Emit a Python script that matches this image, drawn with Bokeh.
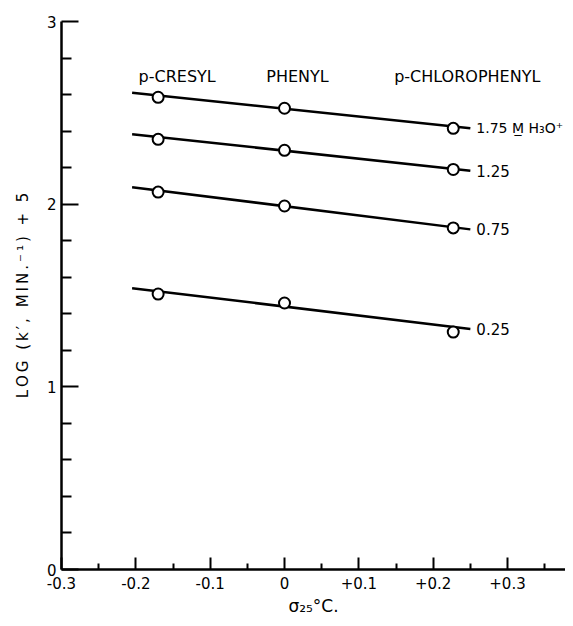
from bokeh.plotting import figure
from bokeh.models import FixedTicker, Range1d, ColumnDataSource
from bokeh.core.properties import value
from bokeh.embed import file_html
from bokeh.resources import INLINE

# ---- data ----
substituents = ["p-CRESYL", "PHENYL", "p-CHLOROPHENYL"]
sigma = [-0.17, 0.0, 0.227]

series_labels = ["1.75 M\u0332 H\u2083O\u207a", "1.25", "0.75", "0.25"]
log_k_175 = [2.585, 2.525, 2.415]
log_k_125 = [2.355, 2.295, 2.19]
log_k_075 = [2.066, 1.99, 1.87]
log_k_025 = [1.508, 1.459, 1.30]

# fitted lines, endpoints
line_x = [-0.205, 0.25]
line_175 = [2.610, 2.415]
line_125 = [2.383, 2.183]
line_075 = [2.093, 1.862]
line_025 = [1.540, 1.317]

x_major = [-0.3, -0.2, -0.1, 0.0, 0.1, 0.2, 0.3]
x_major_labels = ["-0.3", "-0.2", "-0.1", "0", "+0.1", "+0.2", "+0.3"]
x_minor = [-0.25, -0.15, -0.05, 0.05, 0.15, 0.25, 0.35]
y_major = [0, 1, 2, 3]
y_major_labels = ["0", "1", "2", "3"]
y_minor = [0.2, 0.4, 0.6, 0.8, 1.2, 1.4, 1.6, 1.8, 2.2, 2.4, 2.6, 2.8]

y_title = "LOG (k\u2032, MIN.\u207b\u00b9) + 5"

FONT = "DejaVu Sans"


def spaced(s):
    # hand-lettered look: thin space between letters, wider gap between words
    out = []
    for ch in s:
        out.append("\u00a0" if ch == " " else ch)
    return "\u2009".join(out)


p = figure(width=565, height=618, output_backend="svg", toolbar_location=None,
           x_range=Range1d(-0.3, 0.378), y_range=Range1d(0, 3),
           min_border_left=61, min_border_right=0, min_border_top=21, min_border_bottom=48)
p.outline_line_color = None
p.xgrid.visible = False
p.ygrid.visible = False

for ax in (p.xaxis[0], p.yaxis[0]):
    ax.axis_line_width = 2.5
    ax.axis_line_color = "black"
    ax.major_tick_out = 0
    ax.minor_tick_out = 0
    ax.major_tick_line_width = 2
    ax.minor_tick_line_width = 2
    ax.major_label_text_font = FONT
    ax.major_label_text_font_size = "15px"
    ax.major_label_text_color = "black"
    ax.axis_label_text_font = FONT
    ax.axis_label_text_font_style = "normal"
    ax.axis_label_text_color = "black"

p.xaxis.ticker = FixedTicker(ticks=x_major, minor_ticks=x_minor)
p.xaxis.major_label_overrides = {t: l for t, l in zip(x_major, x_major_labels)}
p.xaxis.major_tick_in = 12
p.xaxis.minor_tick_in = 6
p.xaxis.major_label_standoff = 7
p.xaxis.axis_label = "\u03c3\u2082\u2085\u00b0C."
p.xaxis.axis_label_text_font_size = "17px"
p.xaxis.axis_label_standoff = 4

p.yaxis.ticker = FixedTicker(ticks=y_major, minor_ticks=y_minor)
p.yaxis.major_label_overrides = {t: l for t, l in zip(y_major, y_major_labels)}
p.yaxis.major_tick_in = 17
p.yaxis.minor_tick_in = 10
p.yaxis.major_label_standoff = 5
p.yaxis.axis_label = spaced(y_title)
p.yaxis.axis_label_text_font_size = "15px"
p.yaxis.axis_label_standoff = 12

all_series = [log_k_175, log_k_125, log_k_075, log_k_025]
all_lines = [line_175, line_125, line_075, line_025]
label_sizes = ["14px", "15px", "15px", "15px"]

for ys, ly, lab, fs in zip(all_series, all_lines, series_labels, label_sizes):
    p.line(line_x, ly, line_color="black", line_width=2.5)
    p.scatter(sigma, ys, size=11, marker="circle", fill_color="white",
              line_color="black", line_width=2)
    src = ColumnDataSource(dict(x=[line_x[-1]], y=[ly[-1]], t=[lab]))
    p.text(x="x", y="y", text="t", source=src, x_offset=6,
           text_font=value(FONT), text_font_size=fs, text_color="black",
           text_align="left", text_baseline="middle")

hdr_dx = [19, 13, 14]
hdr = ColumnDataSource(dict(x=sigma, y=[2.70] * 3, t=substituents, dx=hdr_dx))
p.text(x="x", y="y", text="t", source=hdr, x_offset="dx",
       text_font=value(FONT), text_font_size="16px", text_color="black",
       text_align="center", text_baseline="middle")

open("out.html", "w").write(file_html(p, INLINE))
